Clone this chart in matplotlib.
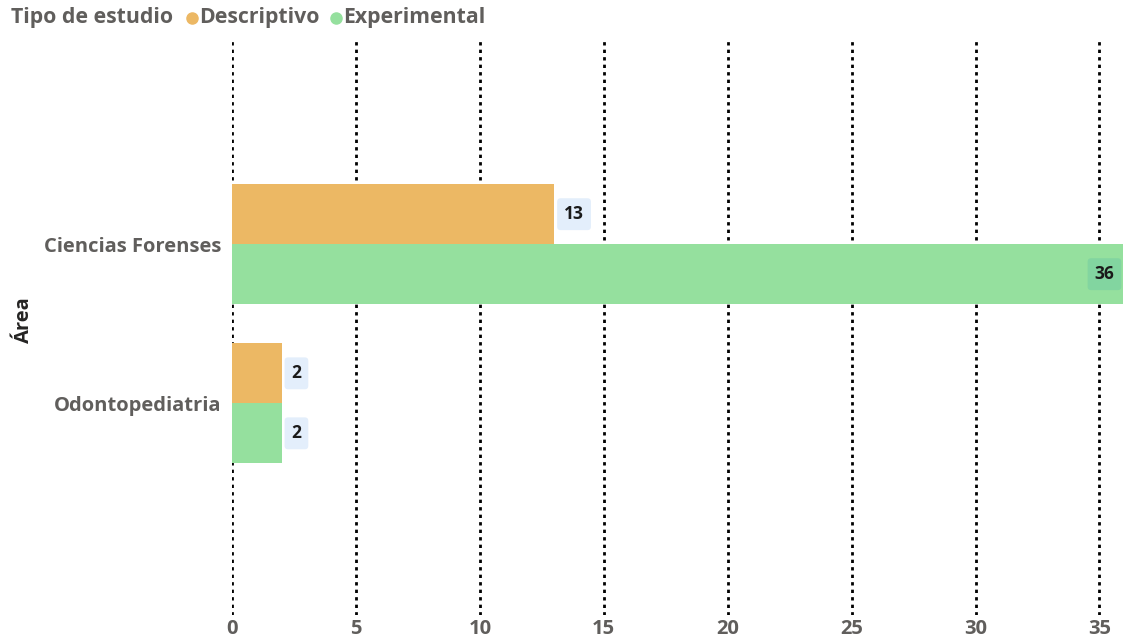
import matplotlib.pyplot as plt
import numpy as np

areas = ['Ciencias Forenses', 'Odontopediatria']
descriptivo = [13, 2]
experimental = [36, 2]
ticks = [0, 5, 10, 15, 20, 25, 30, 35]

c_desc = '#ECB864'
c_exp = '#95E09E'
gray = '#605E5C'

plt.rcParams['font.family'] = ['Open Sans', 'DejaVu Sans']

fig = plt.figure(figsize=(11.23, 6.4), dpi=100)
ax = fig.add_axes([232 / 1123, 25 / 640, (1123 - 232) / 1123, 575 / 640])

y = np.arange(len(areas))
h = 0.377
ax.barh(y - h / 2, descriptivo, height=h, color=c_desc, zorder=3)
ax.barh(y + h / 2, experimental, height=h, color=c_exp, zorder=3)

ax.set_xlim(0, 35.95)
ax.set_ylim(2.33, -1.283)

for x in ticks:
    ax.axvline(x, color='black', linestyle=(0, (1.2, 1.5)), linewidth=2, zorder=2)

lbl = dict(fontsize=12.5, fontweight='bold', color='#1a1a1a', zorder=5)
for i in range(len(areas)):
    ax.text(descriptivo[i] + 0.4, y[i] - h / 2, str(descriptivo[i]), va='center', ha='left',
            bbox=dict(boxstyle='round,pad=0.4,rounding_size=0.2', fc='#E3EEFB', ec='none'), **lbl)
    v = experimental[i]
    if v > 30:
        ax.text(v - 0.4, y[i] + h / 2, str(v), va='center', ha='right',
                bbox=dict(boxstyle='round,pad=0.4,rounding_size=0.2', fc='#82D5A0', ec='none'), **lbl)
    else:
        ax.text(v + 0.4, y[i] + h / 2, str(v), va='center', ha='left',
                bbox=dict(boxstyle='round,pad=0.4,rounding_size=0.2', fc='#E3EEFB', ec='none'), **lbl)

ax.set_yticks(y)
ax.set_yticklabels(areas, fontsize=14.5, fontweight='bold', color=gray)
ax.set_xticks(ticks)
ax.set_xticklabels([str(t) for t in ticks], fontsize=14.5, fontweight='bold', color=gray)
ax.tick_params(length=0, pad=3)
ax.tick_params(axis='y', pad=8)
for s in ax.spines.values():
    s.set_visible(False)

fig.text(24 / 1123, 0.5, 'Área', rotation=90, va='center', ha='center',
         fontsize=14.5, fontweight='bold', color='#252423')

# legend
ly = 1 - 18 / 640
fs = 15.3
fig.text(11 / 1123, ly, 'Tipo de estudio', fontsize=fs, fontweight='bold',
         color=gray, va='center', ha='left')
fig.lines.append(plt.Line2D([192 / 1123], [1 - 18 / 640], marker='o', markersize=8,
                            color=c_desc, transform=fig.transFigure, linestyle='none'))
fig.text(199 / 1123, ly, 'Descriptivo', fontsize=fs, fontweight='bold',
         color=gray, va='center', ha='left')
fig.lines.append(plt.Line2D([336 / 1123], [1 - 18 / 640], marker='o', markersize=8,
                            color=c_exp, transform=fig.transFigure, linestyle='none'))
fig.text(343 / 1123, ly, 'Experimental', fontsize=fs, fontweight='bold',
         color=gray, va='center', ha='left')

fig.savefig('out.png', dpi=100)
